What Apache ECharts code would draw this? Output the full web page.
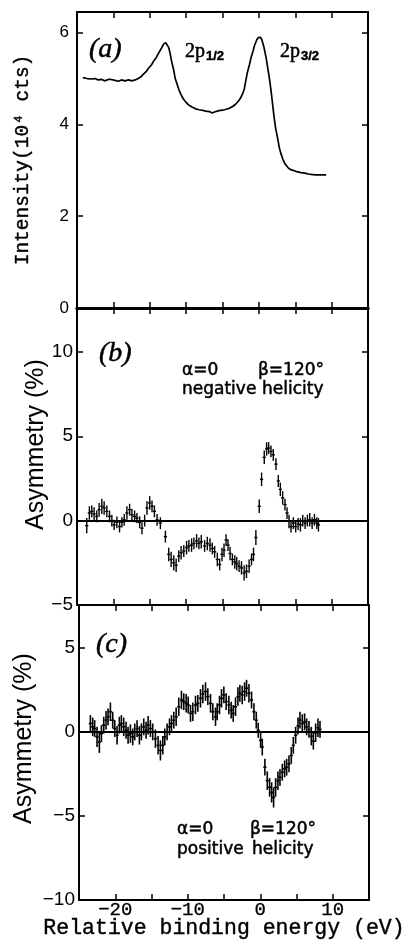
<!DOCTYPE html>
<html><head><meta charset="utf-8">
<script src="https://cdn.jsdelivr.net/npm/echarts@6/dist/echarts.min.js"></script>
<style>html,body{margin:0;padding:0;background:#fff}#c{width:408px;height:943px}</style>
</head><body><div id="c"></div>
<script>
// ---- Panel (a): intensity spectrum (eV, 10^4 cts)
const aX = [-24.2,-23.6,-23.0,-22.5,-22.1,-21.6,-21.2,-20.7,-20.3,-19.8,-19.3,-18.9,-18.4,-17.9,-17.5,-17.0,-16.6,-16.2,-15.9,-15.5,-15.2,-14.8,-14.5,-14.1,-13.8,-13.4,-13.1,-12.8,-12.6,-12.4,-12.2,-12.0,-11.7,-11.5,-11.2,-11.0,-10.7,-10.4,-10.0,-9.7,-9.2,-8.7,-8.2,-7.8,-7.3,-6.8,-6.4,-6.1,-5.9,-5.5,-5.0,-4.5,-4.1,-3.6,-3.2,-2.8,-2.5,-2.2,-2.0,-1.8,-1.6,-1.3,-1.1,-0.8,-0.6,-0.3,-0.1,0.2,0.4,0.7,1.0,1.2,1.5,1.7,1.9,2.1,2.3,2.6,2.8,3.0,3.3,3.6,4.0,4.3,4.7,5.2,5.8,6.3,6.8,7.2,7.7,8.3,8.8,9.25];
const aY = [5.02,5.00,4.99,5.00,4.97,4.98,4.95,4.98,4.98,4.96,4.94,4.97,4.95,4.97,4.95,4.97,5.00,5.04,5.09,5.15,5.22,5.29,5.37,5.46,5.55,5.66,5.75,5.78,5.76,5.68,5.55,5.38,5.18,5.00,4.86,4.76,4.65,4.56,4.48,4.43,4.38,4.34,4.32,4.31,4.29,4.28,4.25,4.27,4.29,4.30,4.31,4.33,4.35,4.39,4.44,4.51,4.58,4.68,4.78,4.95,5.12,5.30,5.44,5.60,5.72,5.84,5.89,5.90,5.85,5.68,5.45,5.25,4.95,4.70,4.42,4.15,3.92,3.68,3.50,3.38,3.24,3.14,3.06,3.02,3.00,2.97,2.95,2.94,2.92,2.91,2.90,2.90,2.90,2.90];

// ---- Panel (b): asymmetry, negative helicity (%)
const bX = [-23.66,-23.30,-22.97,-22.65,-22.28,-21.96,-21.59,-21.27,-20.90,-20.53,-20.21,-19.89,-19.52,-19.15,-18.83,-18.51,-18.14,-17.77,-17.45,-17.08,-16.76,-16.39,-16.07,-15.70,-15.38,-15.01,-14.69,-14.36,-13.99,-13.54,-12.85,-12.39,-12.06,-11.70,-11.37,-11.01,-10.69,-10.32,-9.94,-9.62,-9.25,-8.93,-8.56,-8.24,-7.92,-7.46,-7.09,-6.72,-6.40,-6.08,-5.71,-5.39,-5.07,-4.79,-4.51,-4.24,-3.96,-3.64,-3.31,-3.04,-2.72,-2.39,-2.03,-1.70,-1.34,-1.01,-0.74,-0.41,0.05,0.37,0.74,1.06,1.34,1.66,1.98,2.35,2.67,2.95,3.27,3.59,3.87,4.14,4.42,4.74,5.06,5.39,5.71,6.03,6.35,6.67,6.99,7.32,7.64,7.96,8.19];
const bY = [-0.3,0.45,0.55,0.4,0.25,0.65,0.85,0.75,0.55,0.25,0.0,-0.25,-0.1,-0.35,-0.1,0.05,0.45,0.65,0.35,0.25,0.15,-0.1,-0.45,0.0,0.75,1.05,0.85,0.55,0.05,-0.15,-0.95,-2.0,-2.3,-2.5,-2.65,-2.1,-1.9,-1.8,-1.6,-1.5,-1.45,-1.35,-1.2,-1.35,-1.25,-1.5,-1.35,-1.45,-1.65,-1.85,-2.3,-2.6,-2.0,-1.75,-1.15,-1.45,-1.95,-2.3,-2.45,-2.55,-2.7,-2.8,-3.1,-3.0,-2.7,-2.3,-2.0,-1.0,0.85,2.45,3.75,4.25,4.3,4.1,3.9,3.35,2.35,1.85,1.35,0.95,0.45,-0.05,-0.35,-0.15,-0.35,-0.2,-0.25,0.0,-0.15,0.0,0.05,-0.15,0.05,-0.15,-0.25];
const bErr = [0.45,0.4,0.35,0.4,0.35,0.4,0.45,0.4,0.35,0.35,0.35,0.3,0.35,0.35,0.3,0.35,0.4,0.35,0.35,0.35,0.3,0.35,0.35,0.35,0.4,0.4,0.35,0.35,0.35,0.35,0.35,0.4,0.45,0.45,0.4,0.35,0.4,0.35,0.4,0.35,0.4,0.35,0.4,0.35,0.4,0.35,0.4,0.4,0.35,0.35,0.4,0.35,0.4,0.4,0.35,0.35,0.4,0.35,0.4,0.4,0.35,0.4,0.45,0.4,0.4,0.35,0.4,0.45,0.4,0.4,0.4,0.4,0.35,0.35,0.35,0.35,0.35,0.4,0.4,0.35,0.35,0.4,0.35,0.35,0.35,0.35,0.4,0.35,0.35,0.35,0.4,0.35,0.35,0.35,0.4];

// ---- Panel (c): asymmetry, positive helicity (%)
const cX = [-23.43,-23.11,-22.84,-22.51,-22.19,-21.91,-21.59,-21.27,-20.99,-20.67,-20.35,-20.07,-19.75,-19.43,-19.15,-18.83,-18.51,-18.23,-17.91,-17.59,-17.31,-16.99,-16.67,-16.39,-16.07,-15.75,-15.47,-15.15,-14.83,-14.46,-14.09,-13.77,-13.44,-13.17,-12.85,-12.52,-12.25,-11.93,-11.60,-11.24,-10.87,-10.55,-10.22,-9.94,-9.62,-9.30,-8.93,-8.61,-8.24,-7.92,-7.55,-7.23,-6.86,-6.54,-6.17,-5.94,-5.62,-5.34,-5.02,-4.70,-4.33,-4.01,-3.73,-3.41,-3.08,-2.81,-2.49,-2.16,-1.89,-1.56,-1.20,-0.87,-0.55,-0.28,0.05,0.28,0.64,0.97,1.29,1.57,1.84,2.12,2.44,2.72,3.04,3.36,3.64,3.96,4.28,4.56,4.88,5.21,5.48,5.80,6.12,6.40,6.72,7.04,7.32,7.64,7.96,8.24];
const cY = [0.5,0.3,0.2,-0.3,-0.6,-0.1,0.4,0.7,0.9,1.2,0.7,0.2,-0.2,0.4,0.5,0.3,0.1,-0.2,-0.1,-0.3,0.0,0.2,-0.2,0.0,0.3,0.1,0.4,0.2,0.0,-0.4,-0.8,-1.1,-0.8,-0.3,0.0,0.3,0.5,0.7,0.9,1.5,1.9,1.8,1.7,1.6,1.1,1.2,1.6,1.7,2.0,2.25,2.4,2.1,1.7,1.2,0.9,1.2,1.6,2.0,2.2,1.8,1.6,1.3,1.1,1.5,2.1,2.3,2.2,2.4,2.6,2.3,1.9,1.2,0.7,0.1,-0.5,-0.9,-2.1,-2.9,-3.3,-3.6,-3.9,-3.3,-2.9,-2.7,-2.4,-2.2,-2.1,-1.9,-1.4,-0.8,-0.2,0.35,0.7,0.5,0.6,0.3,0.15,-0.25,-0.55,-0.05,0.25,0.15];
const cErr = [0.5,0.55,0.5,0.6,0.65,0.5,0.5,0.55,0.5,0.55,0.5,0.5,0.55,0.5,0.5,0.55,0.5,0.5,0.55,0.5,0.5,0.5,0.55,0.5,0.5,0.5,0.55,0.5,0.5,0.55,0.55,0.6,0.55,0.5,0.5,0.5,0.5,0.5,0.55,0.55,0.55,0.5,0.55,0.5,0.5,0.55,0.55,0.5,0.55,0.55,0.55,0.5,0.55,0.5,0.55,0.5,0.55,0.55,0.5,0.5,0.55,0.5,0.5,0.55,0.55,0.5,0.55,0.55,0.5,0.55,0.5,0.5,0.5,0.45,0.45,0.5,0.5,0.55,0.55,0.6,0.6,0.55,0.55,0.5,0.5,0.5,0.5,0.5,0.5,0.5,0.5,0.5,0.5,0.55,0.5,0.5,0.5,0.55,0.5,0.55,0.55,0.5];

// ---- Axis ranges / tick labels
const xRange = [-25, 15];
const xTickLabels = [-20, -10, 0, 10];
const aYRange = [0, 6.45], aYTicks = [0, 2, 4, 6];
const bYRange = [-5, 12.6], bYTicks = [-5, 0, 5, 10];
const cYRange = [-10, 7.55], cYTicks = [-10, -5, 0, 5];

const MONO = '"Liberation Mono","DejaVu Sans Mono",monospace';
const SANS = '"Liberation Sans","DejaVu Sans",sans-serif';
const SERIF = '"Liberation Serif","DejaVu Serif",serif';
const DSANS = '"DejaVu Sans",sans-serif';
const BLACK = '#000';

const fmtNum = v => String(v).replace('-', '\u2212');
const near = (v, list) => list.some(t => Math.abs(t - v) < 1e-6);

function xAxis(gi, pos, showLabels, name, lineW) {
  return {
    type: 'value', gridIndex: gi, position: pos, min: xRange[0], max: xRange[1], interval: 5,
    axisLine: { show: true, onZero: false, lineStyle: { color: BLACK, width: lineW || 2 } },
    axisTick: { show: true, inside: true, length: 6, lineStyle: { color: BLACK, width: 1.5 } },
    axisLabel: {
      show: showLabels, margin: 0, color: BLACK, fontFamily: MONO, fontSize: 19,
      textBorderColor: BLACK, textBorderWidth: 0.3,
      formatter: v => near(v, xTickLabels) ? fmtNum(v) : ''
    },
    splitLine: { show: false },
    name: name || '', nameLocation: 'middle', nameGap: 17, nameMoveOverlap: false,
    nameTextStyle: { color: BLACK, fontFamily: MONO, fontSize: 21.5, textBorderColor: BLACK, textBorderWidth: 0.4 }
  };
}
function yAxis(gi, pos, range, ticks, interval, labelOpt, nameOpt) {
  const ax = {
    type: 'value', gridIndex: gi, position: pos, min: range[0], max: range[1], interval: interval,
    axisLine: { show: true, onZero: false, lineStyle: { color: BLACK, width: 2 } },
    axisTick: { show: true, inside: true, length: 6, lineStyle: { color: BLACK, width: 1.5 } },
    axisLabel: Object.assign({
      show: !!labelOpt, color: BLACK, fontFamily: SANS,
      formatter: v => near(v, ticks) ? fmtNum(v) : ''
    }, labelOpt || {}),
    splitLine: { show: false },
    nameMoveOverlap: false
  };
  if (nameOpt) Object.assign(ax, nameOpt);
  return ax;
}

function makeErrRender(w) {
  return function (params, api) {
    const x = api.value(0), y = api.value(1), e = api.value(2);
    const t = api.coord([x, y + e]), b = api.coord([x, y - e]);
    const l = api.coord([x - 0.22, y]), r = api.coord([x + 0.22, y]);
    const st = { stroke: BLACK, lineWidth: w };
    return { type: 'group', children: [
      { type: 'line', shape: { x1: t[0], y1: t[1], x2: b[0], y2: b[1] }, style: st },
      { type: 'line', shape: { x1: l[0], y1: l[1], x2: r[0], y2: r[1] }, style: st }
    ]};
  };
}
const zeroLine = {
  silent: true, symbol: ['none', 'none'], label: { show: false },
  lineStyle: { color: BLACK, width: 2, type: 'solid' }, data: [{ yAxis: 0 }]
};

function txt(x, y, text, size, family, extra) {
  return { type: 'text', x: x, y: y, silent: true,
    style: Object.assign({ text: text, fill: BLACK, fontSize: size, fontFamily: family,
      align: 'left', verticalAlign: 'middle', stroke: BLACK, lineWidth: 0.5 }, extra || {}) };
}

const chart = echarts.init(document.getElementById('c'), null, { renderer: 'canvas' });
chart.setOption({
  animation: false,
  backgroundColor: '#fff',
  grid: [
    { left: 77, top: 12, width: 291, height: 296 },
    { left: 77, top: 308, width: 291, height: 297 },
    { left: 79, top: 605, width: 290, height: 295 }
  ],
  xAxis: [
    xAxis(0, 'bottom', false, '', 3), xAxis(0, 'top', false),
    xAxis(1, 'bottom', false), xAxis(1, 'top', false, '', 3),
    xAxis(2, 'bottom', true, 'Relative binding energy (eV)'), xAxis(2, 'top', false)
  ],
  yAxis: [
    yAxis(0, 'left', aYRange, aYTicks, 2, { fontSize: 17, margin: 8 },
      { name: 'Intensity(10\u2074 cts)', nameLocation: 'middle', nameRotate: 90, nameGap: 44,
        nameTextStyle: { color: BLACK, fontFamily: MONO, fontSize: 19.5, textBorderColor: BLACK, textBorderWidth: 0.4 } }),
    yAxis(0, 'right', aYRange, aYTicks, 2, null),
    yAxis(1, 'left', bYRange, bYTicks, 5, { fontSize: 19, margin: 4 },
      { name: 'Asymmetry (%)', nameLocation: 'middle', nameRotate: 90, nameGap: 28,
        nameTextStyle: { color: BLACK, fontFamily: SANS, fontSize: 25, padding: [0, 0, 0, 24] } }),
    yAxis(1, 'right', bYRange, bYTicks, 5, null),
    yAxis(2, 'left', cYRange, cYTicks, 5, { fontSize: 19, margin: 4 },
      { name: 'Asymmetry (%)', nameLocation: 'middle', nameRotate: 90, nameGap: 42,
        nameTextStyle: { color: BLACK, fontFamily: SANS, fontSize: 25, padding: [0, 0, 0, 28] } }),
    yAxis(2, 'right', cYRange, cYTicks, 5, null)
  ],
  series: [
    { type: 'line', xAxisIndex: 0, yAxisIndex: 0, showSymbol: false, smooth: false,
      lineStyle: { color: BLACK, width: 1.7 }, data: aX.map((x, i) => [x, aY[i]]) },
    { type: 'custom', xAxisIndex: 2, yAxisIndex: 2, renderItem: makeErrRender(1.4), encode: { x: 0, y: 1 },
      data: bX.map((x, i) => [x, bY[i], bErr[i]]), markLine: zeroLine },
    { type: 'custom', xAxisIndex: 4, yAxisIndex: 4, renderItem: makeErrRender(1.6), encode: { x: 0, y: 1 },
      data: cX.map((x, i) => [x, cY[i], cErr[i]]), markLine: zeroLine }
  ],
  graphic: [
    txt(89, 50, '(a)', 28, SERIF, { fontStyle: 'italic' }),
    txt(185, 52, '2p', 20, SERIF),
    txt(206, 56, '1/2', 13, SANS, { fontWeight: 'bold' }),
    txt(280, 52, '2p', 20, SERIF),
    txt(301, 56, '3/2', 13, SANS, { fontWeight: 'bold' }),
    txt(99, 354, '(b)', 28, SERIF, { fontStyle: 'italic' }),
    txt(182, 371, '\u03b1=0', 17, DSANS),
    txt(258, 371, '\u03b2=120\u00b0', 17, DSANS),
    txt(182, 390, 'negative', 17, DSANS),
    txt(262, 390, 'helicity', 17, DSANS),
    txt(96, 645, '(c)', 28, SERIF, { fontStyle: 'italic' }),
    txt(177, 830, '\u03b1=0', 17, DSANS),
    txt(250, 830, '\u03b2=120\u00b0', 17, DSANS),
    txt(177, 850, 'positive', 17, DSANS),
    txt(252, 850, 'helicity', 17, DSANS)
  ]
});
</script></body></html>
